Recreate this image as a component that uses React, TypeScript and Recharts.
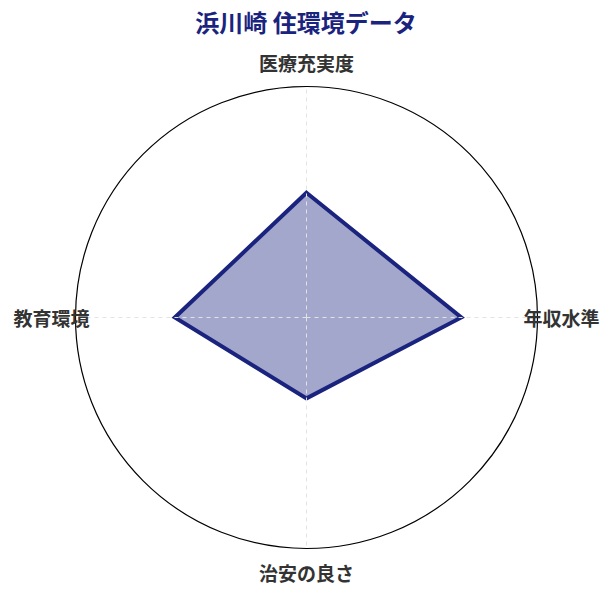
import React from "react";
import { RadarChart, Radar, PolarGrid, PolarAngleAxis, PolarRadiusAxis } from "recharts";

const categories = ["医療充実度", "年収水準", "治安の良さ", "教育環境"];
const scores = [54, 67, 35, 57];
const title = "浜川崎 住環境データ";

const data = categories.map((c, i) => ({ subject: c, value: scores[i] }));

const FONT = '"Noto Sans CJK JP", "Noto Sans", sans-serif';
const CX = 306.5;
const CY = 317.5;
const R = 231;

const AngleTick = (props: any) => {
  const { payload, x, y } = props;
  const cx = typeof props.cx === "number" ? props.cx : CX;
  const cy = typeof props.cy === "number" ? props.cy : CY;
  const r = typeof props.radius === "number" ? props.radius : R;
  const dx = x - cx;
  const dy = y - cy;
  const d = Math.sqrt(dx * dx + dy * dy) || 1;
  const ux = dx / d;
  const uy = dy / d;
  const lr = r + 24;
  return (
    <g>
      <line
        x1={cx}
        y1={cy}
        x2={cx + ux * r}
        y2={cy + uy * r}
        stroke="#e3e3e3"
        strokeWidth={1}
        strokeDasharray="4 4"
      />
      <text
        x={cx + ux * lr}
        y={cy + uy * lr}
        textAnchor="middle"
        dominantBaseline="central"
        fontFamily={FONT}
        fontWeight={700}
        fontSize={19}
        fill="#333333"
      >
        {payload.value}
      </text>
    </g>
  );
};

export default function App() {
  return (
    <div style={{ position: "absolute", left: 0, top: 0, width: 612, height: 595, background: "#fff" }}>
      <div
        style={{
          position: "absolute",
          left: 0,
          top: 0,
          width: 612,
          height: 44,
          lineHeight: "44px",
          textAlign: "center",
          fontFamily: FONT,
          fontWeight: 700,
          fontSize: 24,
          color: "#1a237e",
        }}
      >
        {title}
      </div>
      <RadarChart
        width={612}
        height={595}
        data={data}
        cx={CX}
        cy={CY}
        outerRadius={R}
        startAngle={90}
        endAngle={-270}
        margin={{ top: 0, right: 0, bottom: 0, left: 0 }}
      >
        <PolarGrid gridType="circle" radialLines={false} polarRadius={[R]} stroke="#000000" strokeWidth={1.2} />
        <PolarRadiusAxis domain={[0, 100]} tick={false} axisLine={false} />
        <Radar
          dataKey="value"
          stroke="#1a237e"
          strokeWidth={4}
          fill="#1a237e"
          fillOpacity={0.4}
          isAnimationActive={false}
          dot={false}
        />
        <PolarAngleAxis dataKey="subject" tick={<AngleTick />} tickLine={false} axisLine={false} />
      </RadarChart>
    </div>
  );
}
